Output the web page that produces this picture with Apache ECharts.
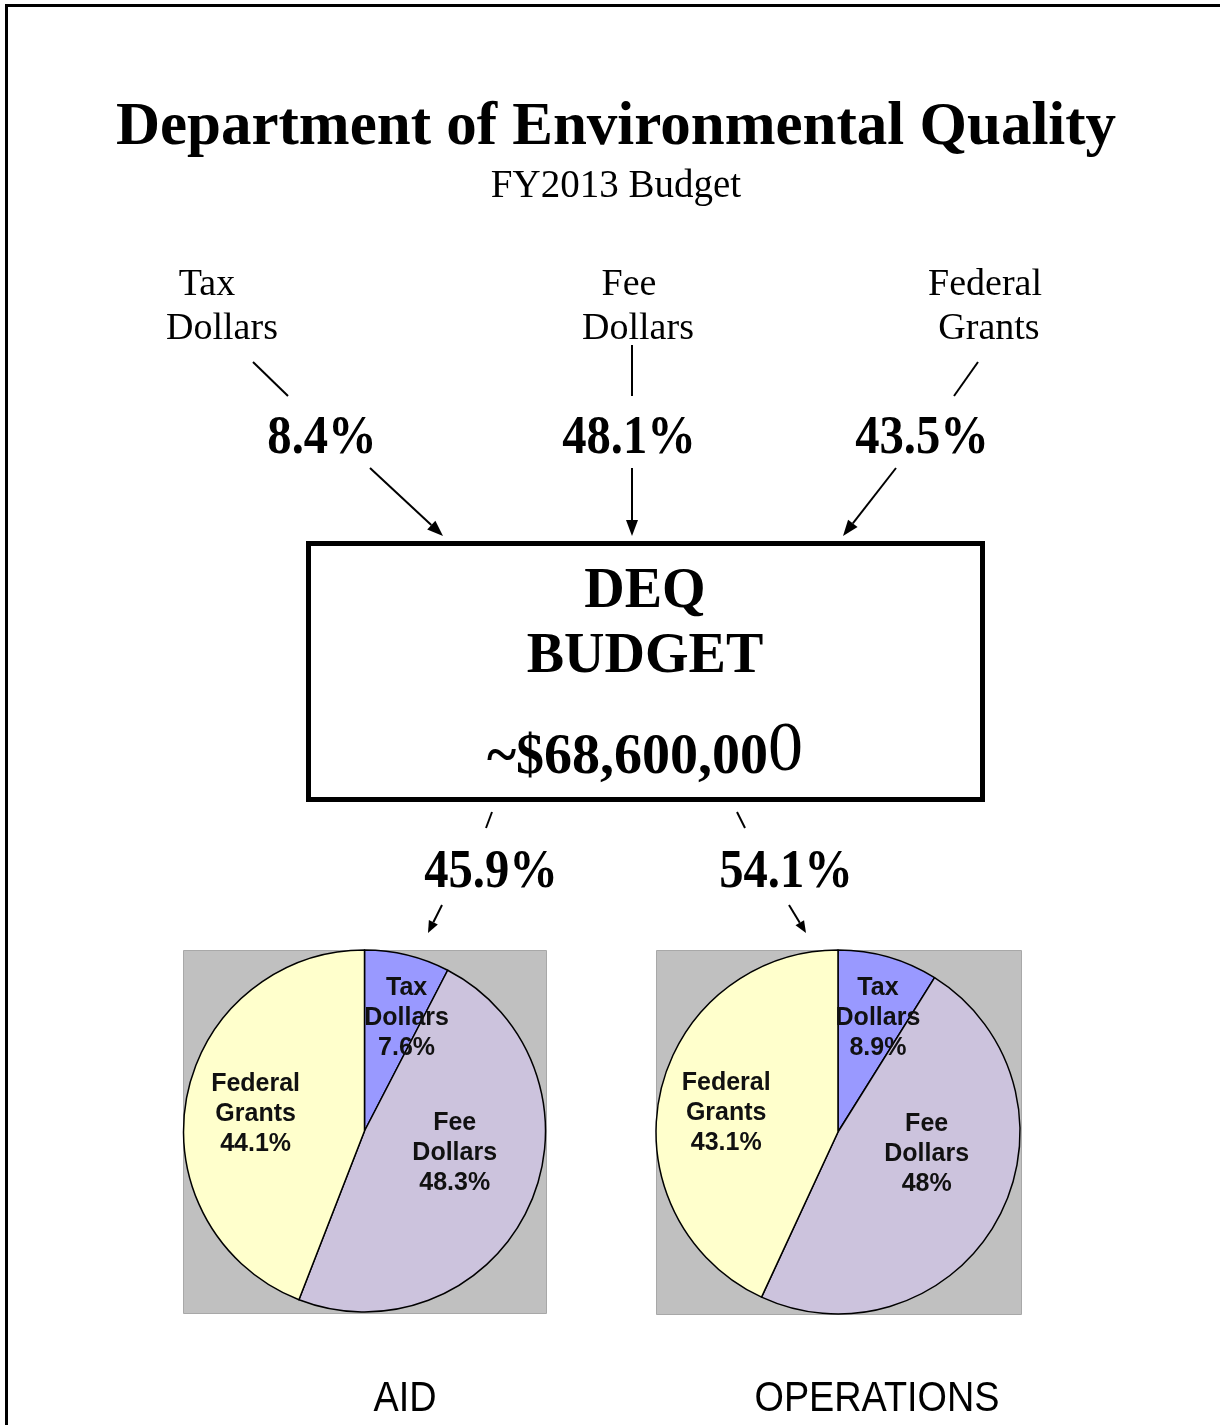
<!DOCTYPE html>
<html>
<head>
<meta charset="utf-8">
<script src="https://cdn.jsdelivr.net/npm/echarts@6/dist/echarts.min.js"></script>
<style>
  html, body { margin: 0; padding: 0; background: #fff; }
  #chart { width: 1220px; height: 1425px; }
</style>
</head>
<body>
<div id="chart"></div>
<script>
// sources of money, as shown in the pies
const categories = ['Tax Dollars', 'Fee Dollars', 'Federal Grants']
const aidValues = [7.6, 48.3, 44.1]
const opsValues = [8.9, 48, 43.1]

// top level split
const sourceShares = ['8.4%', '48.1%', '43.5%']
const useShares = ['45.9%', '54.1%']
const budgetTotal = '~$68,600,00'
const budgetLastDigit = '0'
const pieTitles = ['AID', 'OPERATIONS']

const colors = ['#9999FF', '#CCC3DD', '#FFFFCC']
const serif = '"Liberation Serif", "Times New Roman", serif'
const sans = '"Liberation Sans", Arial, sans-serif'

// nudges for the labels inside the slices (px)
const aidLabelShift = [[20, -22], [5, -16], [-17, 0]]
const opsLabelShift = [[14, -24], [6, -23], [-20, 1]]

const chart = echarts.init(document.getElementById('chart'), null, { renderer: 'canvas' })

const text = (x, y, str, size, bold, extra) => Object.assign({
  type: 'text',
  x: x,
  y: y,
  silent: true,
  style: {
    text: str,
    fill: '#000',
    font: (bold ? 'bold ' : '') + size + 'px ' + serif,
    textAlign: 'center',
    textVerticalAlign: 'middle'
  }
}, extra || {})

const line = (x1, y1, x2, y2) => ({
  type: 'line',
  silent: true,
  shape: { x1: x1, y1: y1, x2: x2, y2: y2 },
  style: { stroke: '#000', lineWidth: 2 }
})

// line with a filled head at the end point
const arrow = (x1, y1, x2, y2, len, half) => {
  const a = Math.atan2(y2 - y1, x2 - x1)
  const bx = x2 - len * Math.cos(a)
  const by = y2 - len * Math.sin(a)
  const px = -Math.sin(a) * half
  const py = Math.cos(a) * half
  return [
    line(x1, y1, bx, by),
    {
      type: 'polygon',
      silent: true,
      shape: { points: [[x2, y2], [bx + px, by + py], [bx - px, by - py]] },
      style: { fill: '#000' }
    }
  ]
}

const pieSeries = (values, center, radius, shift) => ({
  type: 'pie',
  center: center,
  radius: radius,
  startAngle: 90,
  clockwise: true,
  silent: true,
  animation: false,
  data: categories.map((c, i) => ({
    name: c,
    value: values[i],
    itemStyle: { color: colors[i] }
  })),
  itemStyle: { borderColor: '#000', borderWidth: 1.5 },
  label: {
    show: true,
    position: 'inside',
    color: '#111',
    fontFamily: sans,
    fontWeight: 'bold',
    fontSize: 25,
    lineHeight: 30,
    formatter: (p) => p.name.split(' ').join('\n') + '\n' + p.value + '%'
  },
  labelLine: { show: false },
  labelLayout: (p) => ({ dx: shift[p.dataIndex][0], dy: shift[p.dataIndex][1] })
})

// the big percentages look a bit narrow in the original
const pct = (x, y, str) => text(x, y, str, 54, true, { scaleX: 0.9 })

const graphics = [
  // page frame
  {
    type: 'rect', silent: true,
    shape: { x: 6.5, y: 5.5, width: 1240, height: 1440 },
    style: { fill: 'none', stroke: '#000', lineWidth: 3 }
  },
  text(616, 128, 'Department of Environmental Quality', 61, true),
  text(616, 187, 'FY2013 Budget', 39, false),

  text(207, 285, 'Tax', 38, false),
  text(222, 329, 'Dollars', 38, false),
  text(629, 285, 'Fee', 38, false),
  text(638, 329, 'Dollars', 38, false),
  text(985, 285, 'Federal', 38, false),
  text(989, 329, 'Grants', 38, false),

  line(253, 362, 288, 396),
  line(632, 345, 632, 396),
  line(978, 362, 954, 396),

  pct(322, 439, sourceShares[0]),
  pct(629, 439, sourceShares[1]),
  pct(922, 439, sourceShares[2]),

  ...arrow(370, 468, 443, 536, 16, 6),
  ...arrow(632, 468, 632, 536, 16, 6),
  ...arrow(896, 468, 843, 536, 16, 6),

  // budget box
  {
    type: 'rect', silent: true,
    shape: { x: 308.5, y: 543.5, width: 674, height: 256 },
    style: { fill: '#fff', stroke: '#000', lineWidth: 5 }
  },
  text(645, 593, 'DEQ', 56, true),
  text(645, 658, 'BUDGET', 56, true),
  {
    type: 'text', silent: true,
    x: 645, y: 752,
    style: {
      text: '{a|' + budgetTotal + '}{b|' + budgetLastDigit + '}',
      textAlign: 'center',
      textVerticalAlign: 'middle',
      rich: {
        a: { font: 'bold 56px ' + serif, fill: '#000', verticalAlign: 'bottom' },
        b: { font: '70px ' + serif, fill: '#000', verticalAlign: 'bottom' }
      }
    }
  },

  line(492, 812, 486, 828),
  line(737, 812, 745, 828),
  pct(491, 873, useShares[0]),
  pct(786, 873, useShares[1]),
  ...arrow(442, 905, 428, 933, 12, 5),
  ...arrow(789, 905, 806, 933, 12, 5),

  // gray plot areas behind the pies
  {
    type: 'rect', silent: true, z: -10,
    shape: { x: 183.5, y: 950.5, width: 363, height: 363 },
    style: { fill: '#C0C0C0', stroke: '#A8A8A8', lineWidth: 1 }
  },
  {
    type: 'rect', silent: true, z: -10,
    shape: { x: 656.5, y: 950.5, width: 365, height: 364 },
    style: { fill: '#C0C0C0', stroke: '#A8A8A8', lineWidth: 1 }
  },

  text(405, 1399, pieTitles[0], 42, false, { scaleX: 0.9 }),
  text(877, 1399, pieTitles[1], 42, false, { scaleX: 0.9 })
]
graphics[graphics.length - 2].style.font = '42px ' + sans
graphics[graphics.length - 1].style.font = '42px ' + sans

chart.setOption({
  backgroundColor: '#fff',
  animation: false,
  graphic: { elements: graphics.map((g) => g.type === 'rect' && g.z === -10 ? Object.assign(g, { z: 0, zlevel: 0 }) : Object.assign(g, { z: 100 })) },
  series: [
    pieSeries(aidValues, [364.5, 1131], 181, aidLabelShift),
    pieSeries(opsValues, [838, 1132], 182, opsLabelShift)
  ]
})

window.addEventListener('resize', () => {
  chart.resize()
})
</script>
</body>
</html>
